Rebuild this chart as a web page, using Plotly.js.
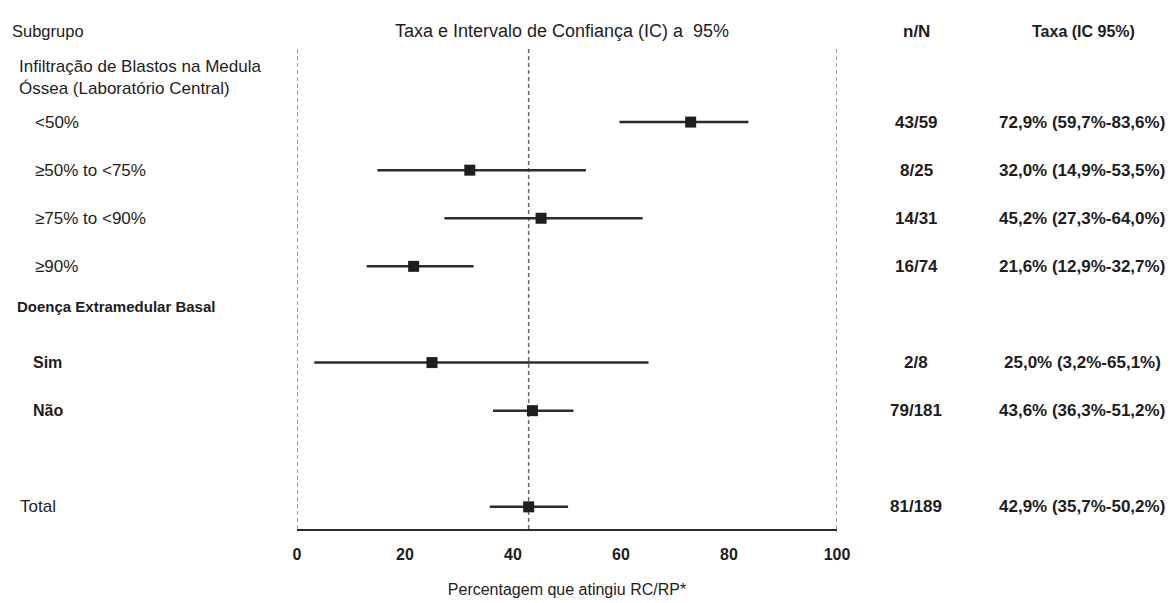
<!DOCTYPE html>
<html>
<head>
<meta charset="utf-8">
<script src="https://cdn.plot.ly/plotly-3.0.1.min.js"></script>
<style>html,body{margin:0;padding:0;background:#fff;}#chart{width:1171px;height:603px;}</style>
</head>
<body>
<div id="chart"></div>
<script>
// ---- data ----
const subgroups = ['<50%', '≥50% to <75%', '≥75% to <90%', '≥90%', 'Sim', 'Não', 'Total'];
const groupOf = ['blast', 'blast', 'blast', 'blast', 'emd', 'emd', 'total'];
const groupHeaders = {
  blast: 'Infiltração de Blastos na Medula<br>Óssea (Laboratório Central)',
  emd: 'Doença Extramedular Basal'
};
const nResp = [43, 8, 14, 16, 2, 79, 81];
const nTotal = [59, 25, 31, 74, 8, 181, 189];
const rate = [72.9, 32.0, 45.2, 21.6, 25.0, 43.6, 42.9];
const ciLow = [59.7, 14.9, 27.3, 12.9, 3.2, 36.3, 35.7];
const ciHigh = [83.6, 53.5, 64.0, 32.7, 65.1, 51.2, 50.2];
const xTicks = [0, 20, 40, 60, 80, 100];
const colHeaders = {subgroup: 'Subgrupo', n: 'n/N', rate: 'Taxa (IC 95%)'};
const chartTitle = 'Taxa e Intervalo de Confiança (IC) a \u00a095%';
const xTitle = 'Percentagem que atingiu RC/RP*';

// ---- helpers ----
const fmt = v => v.toFixed(1).replace('.', ',') + '%';
const FONT = 'Liberation Sans, Arial, Helvetica, sans-serif';
const TXT = '#1f1c1d';

// row order on category axis (header rows / gap are blank rows)
const rows = ['_h_blast'];
subgroups.forEach((s, i) => {
  if (i > 0 && groupOf[i] !== groupOf[i - 1]) {
    if (groupHeaders[groupOf[i]]) rows.push('_h_' + groupOf[i]);
    else rows.push('_gap');
  }
  rows.push(s);
});

const trace = {
  type: 'scatter', mode: 'markers',
  x: rate, y: subgroups,
  marker: {symbol: 'square', size: 11, color: '#1e1e1e'},
  error_x: {
    type: 'data', symmetric: false,
    array: rate.map((r, i) => ciHigh[i] - r),
    arrayminus: rate.map((r, i) => r - ciLow[i]),
    width: 0, thickness: 2.5, color: '#2b2b2b'
  },
  cliponaxis: false, hoverinfo: 'skip', showlegend: false
};

const ann = [];
const boldSet = new Set(['Sim', 'Não']);
const indent = {'<50%': 33, '≥50% to <75%': 33, '≥75% to <90%': 33, '≥90%': 33, 'Sim': 31, 'Não': 31, 'Total': 18};
const PL = 297, PW = 540;
const px2paper = p => (p - PL) / PW;

subgroups.forEach((s, i) => {
  const b = boldSet.has(s);
  ann.push({xref: 'paper', yref: 'y', x: px2paper(indent[s]), y: s, xanchor: 'left', yanchor: 'middle',
    text: s, showarrow: false, font: {family: FONT, size: b ? 16 : 17, color: TXT, weight: b ? 'bold' : 'normal'}});
  ann.push({xref: 'paper', yref: 'y', x: px2paper(916), y: s, xanchor: 'center', yanchor: 'middle',
    text: nResp[i] + '/' + nTotal[i], showarrow: false, font: {family: FONT, size: 17, color: TXT, weight: 'bold'}});
  ann.push({xref: 'paper', yref: 'y', x: px2paper(1082), y: s, xanchor: 'center', yanchor: 'middle',
    text: fmt(rate[i]) + ' (' + fmt(ciLow[i]) + '-' + fmt(ciHigh[i]) + ')', showarrow: false,
    font: {family: FONT, size: 17, color: TXT, weight: 'bold'}});
});
ann.push({xref: 'paper', yref: 'y', x: px2paper(17), y: '_h_blast', yshift: -4, xanchor: 'left', yanchor: 'middle',
  text: groupHeaders.blast, align: 'left', showarrow: false, font: {family: FONT, size: 17, color: TXT}});
ann.push({xref: 'paper', yref: 'y', x: px2paper(15), y: '_h_emd', yshift: 8, xanchor: 'left', yanchor: 'middle',
  text: groupHeaders.emd, showarrow: false, font: {family: FONT, size: 15, color: TXT, weight: 'bold'}});
const hdrY = 1 + (48 - 31) / 481;
ann.push({xref: 'paper', yref: 'paper', x: px2paper(10), y: hdrY, xanchor: 'left', yanchor: 'middle',
  text: colHeaders.subgroup, showarrow: false, font: {family: FONT, size: 16.5, color: TXT}});
ann.push({xref: 'paper', yref: 'paper', x: px2paper(916), y: hdrY, xanchor: 'center', yanchor: 'middle',
  text: colHeaders.n, showarrow: false, font: {family: FONT, size: 17, color: TXT, weight: 'bold'}});
ann.push({xref: 'paper', yref: 'paper', x: px2paper(1083), y: hdrY, xanchor: 'center', yanchor: 'middle',
  text: colHeaders.rate, showarrow: false, font: {family: FONT, size: 16, color: TXT, weight: 'bold'}});

const totalRate = rate[subgroups.indexOf('Total')];
const shapes = [0, totalRate, 100].map(v => ({type: 'line', xref: 'x', yref: 'paper', x0: v, x1: v, y0: 0, y1: 1, layer: 'below',
  line: {color: v === totalRate ? '#666' : '#808080', width: 1.5, dash: '4px,3px'}}));

const layout = {
  width: 1171, height: 603,
  margin: {l: 297, r: 334, t: 48, b: 74, pad: 0},
  paper_bgcolor: '#ffffff', plot_bgcolor: '#ffffff',
  font: {family: FONT, color: TXT},
  title: {text: chartTitle, x: 562 / 1171, xref: 'container', xanchor: 'center',
    y: 1 - 31 / 603, yref: 'container', yanchor: 'middle', font: {family: FONT, size: 18, color: TXT}},
  xaxis: {
    range: [0, 100], tickvals: xTicks, ticktext: xTicks.map(String),
    showgrid: false, zeroline: false, ticks: '', showline: true, linecolor: '#2b2b2b', linewidth: 2,
    tickfont: {family: FONT, size: 16, color: TXT, weight: 'bold'}, ticklabelstandoff: 10,
    title: {text: xTitle, font: {family: FONT, size: 16, color: TXT}, standoff: 22},
    fixedrange: true
  },
  yaxis: {
    type: 'category', categoryorder: 'array', categoryarray: rows,
    range: [rows.length - 0.54, -0.54], autorange: false,
    showticklabels: false, showgrid: false, zeroline: false, showline: false, ticks: '', fixedrange: true
  },
  shapes: shapes,
  annotations: ann
};

Plotly.newPlot('chart', [trace], layout, {displayModeBar: false, staticPlot: true});
</script>
</body>
</html>
